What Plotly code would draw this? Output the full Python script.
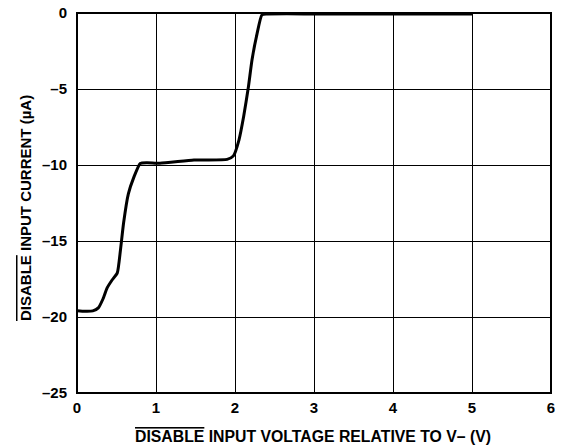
import plotly.graph_objects as go

voltage = [0.0, 0.1, 0.2, 0.27, 0.33, 0.38, 0.44, 0.51, 0.55, 0.59, 0.65, 0.72, 0.80, 0.886, 1.05, 1.48, 1.90, 1.98, 2.05, 2.11, 2.17, 2.215, 2.28, 2.34, 2.40, 3.0, 4.0, 5.0]
current = [-19.58, -19.62, -19.6, -19.4, -18.8, -18.1, -17.6, -17.1, -15.6, -13.8, -11.9, -10.8, -9.9, -9.85, -9.89, -9.67, -9.63, -9.4, -8.36, -6.8, -4.85, -3.09, -1.34, -0.13, -0.07, -0.06, -0.06, -0.06]

x_ticks = [0, 1, 2, 3, 4, 5, 6]
y_ticks = [0, -5, -10, -15, -20, -25]
y_ticktext = ["0", "\u20135", "\u201310", "\u201315", "\u201320", "\u201325"]

FONT = "Liberation Sans, Arial, sans-serif"
OFF = 8  # page body margin
W, H = 577 - OFF, 447 - OFF
L, R, T, B = 77 - OFF, 26, 13 - OFF, 54
PW, PH = W - L - R, H - T - B

fig = go.Figure()
fig.add_trace(go.Scatter(x=voltage, y=current, mode="lines",
                         line=dict(color="black", width=3, shape="spline", smoothing=0.5),
                         hoverinfo="skip", showlegend=False, cliponaxis=False))

OL = '<span style="text-decoration:overline">DISABLE</span>'

fig.update_layout(
    width=W, height=H,
    margin=dict(l=L, r=R, t=T, b=B),
    paper_bgcolor="white", plot_bgcolor="white",
    font=dict(family=FONT, size=15, color="black"),
    xaxis=dict(range=[0, 6], tickvals=x_ticks, ticktext=["<b>%d</b>" % v for v in x_ticks],
               showgrid=True, gridcolor="black", gridwidth=1,
               showline=False, zeroline=False, ticks="", automargin=False,
               ticklabelstandoff=4, ticklabeloverflow="allow",
               tickfont=dict(family=FONT, size=15, color="black")),
    yaxis=dict(range=[-25, 0], tickvals=y_ticks, ticktext=["<b>%s</b>" % t for t in y_ticktext],
               showgrid=True, gridcolor="black", gridwidth=1,
               showline=False, zeroline=False, ticks="", automargin=False,
               ticklabelstandoff=9, ticklabeloverflow="allow",
               tickfont=dict(family=FONT, size=15, color="black")),
)

# plot-area frame
fig.add_shape(type="rect", xref="x domain", yref="y domain", x0=0, x1=1, y0=0, y1=1,
              line=dict(color="black", width=2), fillcolor="rgba(0,0,0,0)", layer="above")

def px_to_paper_x(px):
    return (px - OFF - L) / PW

def px_to_paper_y(py):
    return (H - B - (py - OFF)) / PH

fig.add_annotation(text="<b>" + OL + " INPUT VOLTAGE RELATIVE TO V\u2013 (V)</b>",
                   x=px_to_paper_x(313), y=px_to_paper_y(437), xref="paper", yref="paper",
                   showarrow=False, xanchor="center", yanchor="middle",
                   font=dict(family=FONT, size=15.8, color="black"))
fig.add_annotation(text="<b>" + OL + " INPUT CURRENT (\u00b5A)</b>",
                   x=px_to_paper_x(26), y=px_to_paper_y(208), xref="paper", yref="paper",
                   showarrow=False, textangle=-90, xanchor="center", yanchor="middle",
                   font=dict(family=FONT, size=15, color="black"))
fig.add_annotation(text="05692-008", x=px_to_paper_x(572), y=px_to_paper_y(422),
                   xref="paper", yref="paper", showarrow=False, textangle=-90,
                   xanchor="center", yanchor="middle",
                   font=dict(family=FONT, size=6, color="black"))

fig.write_html("out.html")
